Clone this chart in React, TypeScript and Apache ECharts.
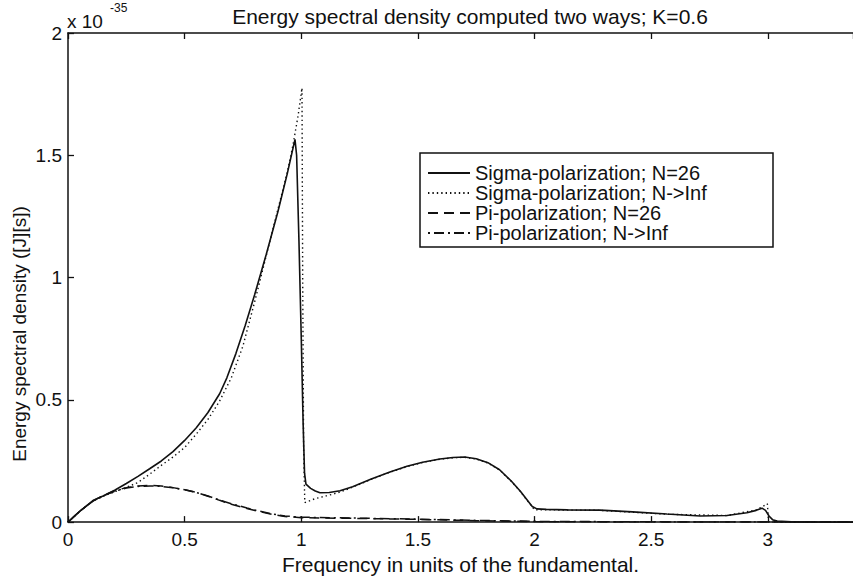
import React, { useEffect, useRef } from "react";
import * as echarts from "echarts";

const titleText = "Energy spectral density computed two ways; K=0.6";
const xAxisName = "Frequency in units of the fundamental.";
const yAxisName = "Energy spectral density ([J][s])";
const multiplierBase = "x 10";
const multiplierExp = "-35";
const legendNames = [
  "Sigma-polarization; N=26",
  "Sigma-polarization; N->Inf",
  "Pi-polarization; N=26",
  "Pi-polarization; N->Inf",
];

// values in units of 1e-35
const sigmaN26: [number, number][] = [
  [0, 0], [0.05, 0.044], [0.107, 0.088], [0.15, 0.107], [0.2, 0.13], [0.25, 0.158],
  [0.3, 0.187], [0.35, 0.218], [0.4, 0.25], [0.45, 0.288], [0.5, 0.334], [0.55, 0.386],
  [0.6, 0.448], [0.65, 0.525], [0.681, 0.59], [0.72, 0.69], [0.76, 0.805], [0.8, 0.93],
  [0.85, 1.095], [0.9, 1.27], [0.94, 1.425], [0.973, 1.565], [0.98, 1.5], [0.99, 1.15],
  [1.0, 0.75], [1.008, 0.4], [1.014, 0.2], [1.02, 0.155], [1.04, 0.138], [1.06, 0.127],
  [1.08, 0.12], [1.12, 0.121], [1.166, 0.128], [1.22, 0.145], [1.3, 0.176], [1.38, 0.205],
  [1.453, 0.228], [1.52, 0.245], [1.594, 0.258], [1.65, 0.264], [1.7, 0.266], [1.75, 0.259],
  [1.8, 0.243], [1.85, 0.214], [1.9, 0.168], [1.94, 0.125], [1.97, 0.088], [1.99, 0.064],
  [2.01, 0.054], [2.05, 0.052], [2.14, 0.05], [2.28, 0.049], [2.42, 0.042], [2.567, 0.033],
  [2.71, 0.025], [2.825, 0.027], [2.91, 0.038], [2.95, 0.048], [2.975, 0.057], [2.99, 0.048],
  [3.005, 0.025], [3.02, 0.01], [3.04, 0.004], [3.1, 0.001], [3.365, 0],
];

const sigmaInf: [number, number][] = [
  [0, 0], [0.05, 0.044], [0.107, 0.087], [0.15, 0.105], [0.2, 0.124], [0.25, 0.142],
  [0.3, 0.162], [0.35, 0.196], [0.4, 0.232], [0.45, 0.266], [0.5, 0.305], [0.55, 0.36],
  [0.6, 0.42], [0.65, 0.495], [0.7, 0.59], [0.75, 0.72], [0.8, 0.9], [0.85, 1.09],
  [0.9, 1.28], [0.94, 1.43], [0.964, 1.54], [0.986, 1.66], [1.003, 1.775], [1.006, 1.0],
  [1.01, 0.3], [1.015, 0.08], [1.06, 0.096], [1.11, 0.108], [1.15, 0.118], [1.2, 0.135],
  [1.3, 0.175], [1.38, 0.204], [1.453, 0.227], [1.52, 0.244], [1.594, 0.257], [1.65, 0.263],
  [1.7, 0.265], [1.75, 0.258], [1.8, 0.242], [1.85, 0.213], [1.9, 0.167], [1.94, 0.124],
  [1.97, 0.087], [2.0, 0.05], [2.066, 0.05], [2.28, 0.048], [2.567, 0.032], [2.825, 0.027],
  [2.95, 0.05], [2.98, 0.065], [2.998, 0.075], [3.003, 0], [3.365, 0],
];

const piN26: [number, number][] = [
  [0, 0], [0.05, 0.044], [0.107, 0.087], [0.15, 0.108], [0.2, 0.128], [0.25, 0.141],
  [0.3, 0.148], [0.351, 0.15], [0.4, 0.148], [0.45, 0.141], [0.5, 0.133], [0.55, 0.122],
  [0.6, 0.106], [0.65, 0.089], [0.7, 0.073], [0.767, 0.056], [0.82, 0.043], [0.879, 0.031],
  [0.93, 0.023], [1.0, 0.018], [1.25, 0.015], [1.5, 0.011], [1.75, 0.006], [2.0, 0.002],
  [2.2, 0.001], [3.365, 0],
];

const piInf: [number, number][] = [
  [0, 0], [0.05, 0.044], [0.107, 0.086], [0.15, 0.107], [0.2, 0.126], [0.25, 0.139],
  [0.3, 0.146], [0.351, 0.148], [0.4, 0.146], [0.45, 0.14], [0.5, 0.132], [0.55, 0.121],
  [0.6, 0.107], [0.65, 0.09], [0.7, 0.075], [0.767, 0.058], [0.82, 0.045], [0.879, 0.033],
  [0.93, 0.025], [1.0, 0.02], [1.25, 0.016], [1.5, 0.012], [1.75, 0.007], [2.0, 0.003],
  [2.5, 0.001], [3.365, 0],
];

const FONT = "Liberation Sans, Arial, Helvetica, sans-serif";
const INK = "#111";

export default function App() {
  const ref = useRef<HTMLDivElement>(null);
  useEffect(() => {
    const chart = echarts.init(ref.current!, null, { renderer: "svg" });
    const axisCommon = {
      type: "value",
      min: 0,
      max: 3.365,
      interval: 0.5,
      axisLine: { show: true, lineStyle: { color: INK, width: 1.5 } },
      axisTick: { show: true, inside: true, length: 6, lineStyle: { color: INK, width: 1.3 } },
      splitLine: { show: false },
    };
    chart.setOption({
      animation: false,
      backgroundColor: "#fff",
      color: [INK, INK, INK, INK],
      textStyle: { fontFamily: FONT, color: INK },
      title: {
        text: titleText,
        left: 465,
        top: 1,
        textAlign: "center",
        textStyle: { fontFamily: FONT, fontSize: 21, fontWeight: "normal", color: INK },
      },
      grid: { left: 68, right: 0, top: 33, bottom: 48, containLabel: false },
      xAxis: [
        {
          ...axisCommon,
          position: "bottom",
          name: xAxisName,
          nameLocation: "middle",
          nameGap: 29,
          nameTextStyle: { fontFamily: FONT, fontSize: 21, color: INK },
          axisLabel: {
            show: true,
            margin: 8,
            fontSize: 19,
            fontFamily: FONT,
            color: INK,
            showMaxLabel: false,
            formatter: (v: number) => (Math.abs(v * 2 - Math.round(v * 2)) < 1e-6 ? String(v) : ""),
          },
        },
        {
          ...axisCommon,
          position: "top",
          axisLabel: { show: false },
        },
      ],
      yAxis: {
        type: "value",
        min: 0,
        max: 2,
        interval: 0.5,
        axisLine: { show: true, lineStyle: { color: INK, width: 1.5 } },
        axisTick: { show: true, inside: true, length: 6, lineStyle: { color: INK, width: 1.3 } },
        splitLine: { show: false },
        axisLabel: { margin: 6, fontSize: 19, fontFamily: FONT, color: INK },
      },
      legend: {
        show: true,
        orient: "vertical",
        left: 427,
        top: 163,
        padding: 0,
        itemWidth: 42,
        itemHeight: 14,
        itemGap: 0,
        itemStyle: { opacity: 0 },
        textStyle: { fontFamily: FONT, fontSize: 20, color: INK },
        data: legendNames,
        z: 10,
      },
      graphic: [
        {
          type: "rect",
          z: 5,
          shape: { x: 420, y: 153, width: 353, height: 94 },
          style: { fill: "#fff", stroke: INK, lineWidth: 1.5 },
        },
        {
          type: "text",
          x: 67,
          y: 12,
          style: { text: multiplierBase, fontFamily: FONT, fontSize: 19, fill: INK },
        },
        {
          type: "text",
          x: 110,
          y: 2,
          style: { text: multiplierExp, fontFamily: FONT, fontSize: 12, fill: INK },
        },
        {
          type: "text",
          x: 19,
          y: 334,
          rotation: Math.PI / 2,
          style: {
            text: yAxisName,
            fontFamily: FONT,
            fontSize: 19,
            fill: INK,
            align: "center",
            verticalAlign: "middle",
          },
        },
      ],
      series: [
        {
          name: legendNames[0],
          type: "line",
          data: sigmaN26,
          symbol: "none",
          itemStyle: { color: INK },
          lineStyle: { color: INK, width: 1.6, type: "solid" },
          z: 4,
        },
        {
          name: legendNames[1],
          type: "line",
          data: sigmaInf,
          symbol: "none",
          itemStyle: { color: INK },
          lineStyle: { color: INK, width: 1.4, type: [1.4, 3], cap: "butt" },
          z: 3,
        },
        {
          name: legendNames[2],
          type: "line",
          data: piN26,
          symbol: "none",
          itemStyle: { color: INK },
          lineStyle: { color: INK, width: 1.5, type: [10, 6] },
          z: 3,
        },
        {
          name: legendNames[3],
          type: "line",
          data: piInf,
          symbol: "none",
          itemStyle: { color: INK },
          lineStyle: { color: INK, width: 1.5, type: [2, 4, 10, 4] },
          z: 3,
        },
      ],
    });
    return () => chart.dispose();
  }, []);
  return (
    <div
      ref={ref}
      style={{ position: "fixed", left: 0, top: 0, width: 853, height: 580, background: "#fff" }}
    />
  );
}
